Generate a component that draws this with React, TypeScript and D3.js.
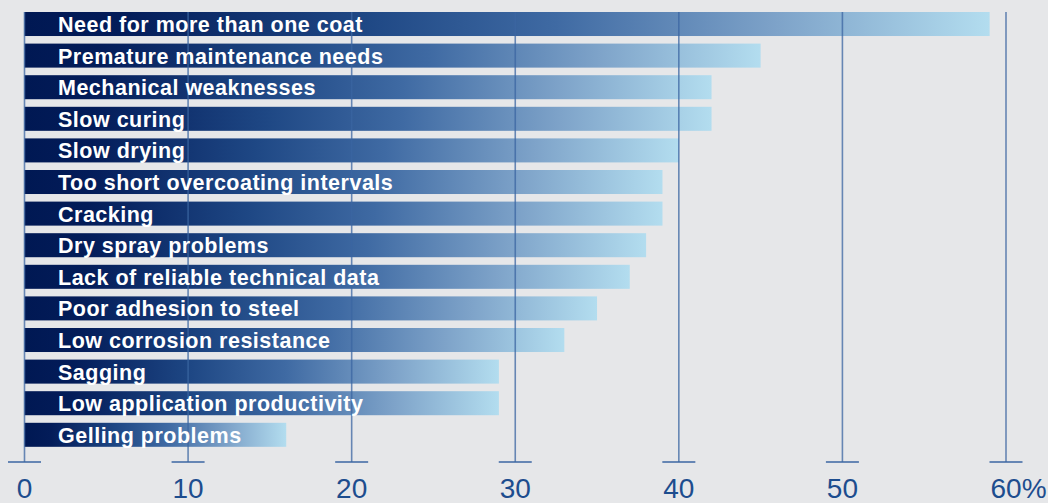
import React from "react";
import * as d3 from "d3";

const categories = [
  "Need for more than one coat",
  "Premature maintenance needs",
  "Mechanical weaknesses",
  "Slow curing",
  "Slow drying",
  "Too short overcoating intervals",
  "Cracking",
  "Dry spray problems",
  "Lack of reliable technical data",
  "Poor adhesion to steel",
  "Low corrosion resistance",
  "Sagging",
  "Low application productivity",
  "Gelling problems",
];
const values = [59, 45, 42, 42, 40, 39, 39, 38, 37, 35, 33, 29, 29, 16];
const ticks = [0, 10, 20, 30, 40, 50, 60];

const W = 1048;
const H = 503;

export default function App() {
  const x = d3.scaleLinear().domain([0, 60]).range([24.5, 1006]);
  const y = d3
    .scaleBand<string>()
    .domain(categories)
    .range([12, 12 + 31.6 * 13.76])
    .paddingInner(0.24)
    .paddingOuter(0);
  const bw = y.bandwidth();
  const gridTop = 12;
  const gridBottom = 462;
  const lineColor = "#3b66a2";
  const labelColor = "#1d4d8e";

  return (
    <svg
      width={W}
      height={H}
      style={{ position: "absolute", left: 0, top: 0, background: "#e6e7e9" }}
    >
      <defs>
        <linearGradient id="barGrad" x1="0" x2="1" y1="0" y2="0">
          <stop offset="0" stopColor="#001853" />
          <stop offset="0.1" stopColor="#031c59" />
          <stop offset="0.35" stopColor="#1e4784" />
          <stop offset="0.55" stopColor="#3f6aa3" />
          <stop offset="0.78" stopColor="#7ea3c9" />
          <stop offset="1" stopColor="#b3ddef" />
        </linearGradient>
      </defs>
      <rect x={0} y={0} width={W} height={H} fill="#e6e7e9" />
      {categories.map((c, i) => (
        <rect
          key={c}
          x={x(0)}
          y={y(c)}
          width={x(values[i]) - x(0)}
          height={bw}
          fill="url(#barGrad)"
        />
      ))}
      {ticks.map((t) => (
        <g key={t}>
          <line
            x1={x(t)}
            x2={x(t)}
            y1={gridTop}
            y2={gridBottom}
            stroke={lineColor}
            strokeWidth={1.6}
            strokeOpacity={0.75}
          />
          <line
            x1={x(t) - 16.5}
            x2={x(t) + 16.5}
            y1={gridBottom}
            y2={gridBottom}
            stroke={lineColor}
            strokeWidth={1.6}
          />
          <text
            x={t === 60 ? x(t) - 15.5 : x(t)}
            y={498}
            textAnchor={t === 60 ? "start" : "middle"}
            fontFamily="Liberation Sans, Arial, sans-serif"
            fontSize={28}
            fill={labelColor}
          >
            {t === 60 ? `${t}%` : t}
          </text>
        </g>
      ))}
      {categories.map((c) => (
        <text
          key={c}
          x={58}
          y={(y(c) as number) + 20}
          fontFamily="Liberation Sans, Arial, sans-serif"
          fontWeight="bold"
          fontSize={21.5}
          letterSpacing={0.5}
          fill="#ffffff"
        >
          {c}
        </text>
      ))}
    </svg>
  );
}
